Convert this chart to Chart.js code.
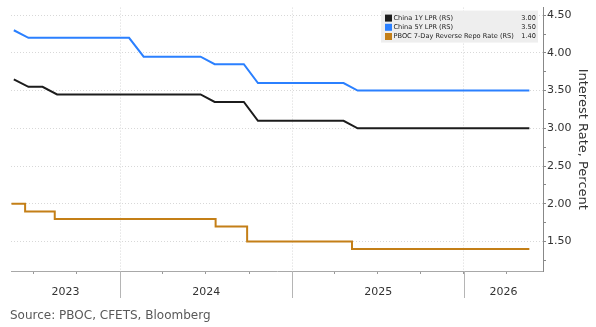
<!DOCTYPE html>
<html>
<head>
<meta charset="utf-8">
<script src="https://cdn.jsdelivr.net/npm/chart.js@4"></script>
<style>
  html, body { margin: 0; padding: 0; background: #fff; }
  #chart { width: 596px; height: 327px; }
</style>
</head>
<body>
<div id="chart"><canvas id="c" width="596" height="327"></canvas></div>
<script>
// monthly LPR fixings (20th of the month)
const lprDates = [
  "2023-05-20", "2023-06-20", "2023-07-20", "2023-08-20", "2023-09-20", "2023-10-20", "2023-11-20", "2023-12-20",
  "2024-01-20", "2024-02-20", "2024-03-20", "2024-04-20", "2024-05-20", "2024-06-20",
  "2024-07-20", "2024-08-20", "2024-09-20", "2024-10-20", "2024-11-20", "2024-12-20",
  "2025-01-20", "2025-02-20", "2025-03-20", "2025-04-20", "2025-05-20", "2025-06-20",
  "2025-07-20", "2025-08-20", "2025-09-20", "2025-10-20", "2025-11-20", "2025-12-20",
  "2026-01-20", "2026-02-20", "2026-03-20", "2026-04-20", "2026-05-20"
];
const lpr1y = [
  3.65, 3.55, 3.55, 3.45, 3.45, 3.45, 3.45, 3.45,
  3.45, 3.45, 3.45, 3.45, 3.45, 3.45,
  3.35, 3.35, 3.35, 3.10, 3.10, 3.10,
  3.10, 3.10, 3.10, 3.10, 3.00, 3.00,
  3.00, 3.00, 3.00, 3.00, 3.00, 3.00,
  3.00, 3.00, 3.00, 3.00, 3.00
];
const lpr5y = [
  4.30, 4.20, 4.20, 4.20, 4.20, 4.20, 4.20, 4.20,
  4.20, 3.95, 3.95, 3.95, 3.95, 3.95,
  3.85, 3.85, 3.85, 3.60, 3.60, 3.60,
  3.60, 3.60, 3.60, 3.60, 3.50, 3.50,
  3.50, 3.50, 3.50, 3.50, 3.50, 3.50,
  3.50, 3.50, 3.50, 3.50, 3.50
];
// 7-day reverse repo: dates where the rate changed
const repoDates = ["2023-05-15", "2023-06-13", "2023-08-15", "2024-07-22", "2024-09-27", "2025-05-08", "2026-05-20"];
const repoRates = [2.00, 1.90, 1.80, 1.70, 1.50, 1.40, 1.40];

const seriesNames = ["China 1Y LPR (RS)", "China 5Y LPR (RS)", "PBOC 7-Day Reverse Repo Rate (RS)"];
const seriesColors = ["#1c1c1c", "#2b80ff", "#c47f17"];
const yearLabels = ["2023", "2024", "2025", "2026"];
const yTicks = [1.25, 1.5, 1.75, 2.0, 2.25, 2.5, 2.75, 3.0, 3.25, 3.5, 3.75, 4.0, 4.25, 4.5];
const xRange = ["2023-05-14", "2026-06-18"];
const yRange = [1.11, 4.6];
const sourceText = "Source: PBOC, CFETS, Bloomberg";
const yTitle = "Interest Rate, Percent";

const toTime = (s) => Date.parse(s + "T00:00:00Z");
const pairs = (dates, vals) => dates.map((d, i) => ({ x: toTime(d), y: vals[i] }));

Chart.defaults.font.family = "'DejaVu Sans', sans-serif";
Chart.defaults.color = "#333";

const xMin = toTime(xRange[0]);
const xMax = toTime(xRange[1]);

const quarterTicks = [];
yearLabels.forEach((yr) => {
  ["01", "04", "07", "10"].forEach((m) => {
    const t = toTime(yr + "-" + m + "-01");
    if (t >= xMin && t <= xMax) quarterTicks.push(t);
  });
});

const extras = {
  id: "extras",
  afterDraw(chart) {
    const ctx = chart.ctx;
    const xs = chart.scales.x;
    const { left, right, top, bottom } = chart.chartArea;
    ctx.save();

    // year dividers below the axis + year labels
    ctx.strokeStyle = "#b5b5b5";
    ctx.lineWidth = 1;
    ctx.fillStyle = "#333";
    ctx.font = "11px 'DejaVu Sans'";
    ctx.textAlign = "center";
    ctx.textBaseline = "middle";
    yearLabels.forEach((yr) => {
      const px = xs.getPixelForValue(toTime(yr + "-01-01"));
      const pe = xs.getPixelForValue(toTime((+yr + 1) + "-01-01"));
      if (px > left && px < right) {
        ctx.beginPath();
        ctx.moveTo(Math.round(px) + 0.5, bottom);
        ctx.lineTo(Math.round(px) + 0.5, bottom + 27);
        ctx.stroke();
      }
      const a = Math.max(px, left), b = Math.min(pe, right);
      ctx.fillText(yr, (a + b) / 2, bottom + 21);
    });

    // source line
    ctx.textAlign = "left";
    ctx.fillStyle = "#595959";
    ctx.font = "12px 'DejaVu Sans'";
    ctx.fillText(sourceText, 10, 316);

    // legend box with last values
    const lastVals = [lpr1y[lpr1y.length - 1], lpr5y[lpr5y.length - 1], repoRates[repoRates.length - 1]];
    const bx = right - 162, by = top + 3, bw = 157, bh = 32;
    ctx.fillStyle = "#eeeeee";
    ctx.fillRect(bx, by, bw, bh);
    ctx.font = "6.6px 'DejaVu Sans'";
    seriesNames.forEach((name, i) => {
      const cy = by + 7 + i * 9.2;
      ctx.fillStyle = seriesColors[i];
      ctx.fillRect(bx + 4, cy - 3, 7, 7);
      ctx.fillStyle = "#222";
      ctx.textAlign = "left";
      ctx.fillText(name, bx + 12.5, cy + 0.5);
      ctx.textAlign = "right";
      ctx.fillText(lastVals[i].toFixed(2), bx + bw - 2, cy + 0.5);
    });
    ctx.restore();
  }
};

new Chart(document.getElementById("c"), {
  type: "line",
  data: {
    datasets: [
      {
        label: seriesNames[0],
        data: pairs(lprDates, lpr1y),
        borderColor: seriesColors[0],
        borderWidth: 2,
        pointRadius: 0,
        tension: 0
      },
      {
        label: seriesNames[1],
        data: pairs(lprDates, lpr5y),
        borderColor: seriesColors[1],
        borderWidth: 2,
        pointRadius: 0,
        tension: 0
      },
      {
        label: seriesNames[2],
        data: pairs(repoDates, repoRates),
        borderColor: seriesColors[2],
        borderWidth: 2,
        pointRadius: 0,
        stepped: "before"
      }
    ]
  },
  options: {
    responsive: false,
    animation: false,
    layout: { padding: { left: 11, top: 5, right: 0, bottom: 0 } },
    plugins: {
      legend: { display: false },
      tooltip: { enabled: false }
    },
    scales: {
      x: {
        type: "linear",
        min: xMin,
        max: xMax,
        afterBuildTicks: (scale) => { scale.ticks = quarterTicks.map((v) => ({ value: v })); },
        afterFit: (scale) => { scale.height = 56; },
        ticks: { display: false },
        grid: {
          color: (c) => (c.tick && new Date(c.tick.value).getUTCMonth() === 0 ? "#d8d8d8" : "rgba(0,0,0,0)"),
          tickColor: "#999",
          tickLength: 3
        },
        border: { display: true, color: "#a8a8a8", dash: [1, 2] }
      },
      y: {
        position: "right",
        min: yRange[0],
        max: yRange[1],
        afterBuildTicks: (scale) => { scale.ticks = yTicks.map((v) => ({ value: v })); },
        afterFit: (scale) => { scale.width = 53; },
        ticks: {
          padding: 1,
          font: { size: 11 },
          color: "#333",
          callback: (v) => (Number.isInteger(v * 2) ? v.toFixed(2) : "")
        },
        grid: {
          color: (c) => (c.tick && Number.isInteger(c.tick.value * 2) ? "#d8d8d8" : "rgba(0,0,0,0)"),
          tickColor: "#888",
          tickLength: 3
        },
        border: { display: true, color: "#888", dash: [1, 2] },
        title: {
          display: true,
          text: yTitle,
          font: { size: 13 },
          color: "#333",
          padding: { top: 6, bottom: 0 }
        }
      }
    }
  },
  plugins: [extras]
});
</script>
</body>
</html>
